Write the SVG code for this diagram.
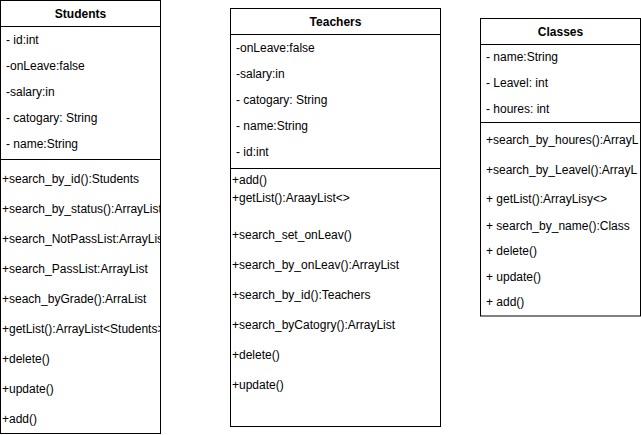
<svg xmlns="http://www.w3.org/2000/svg" width="641" height="435" viewBox="0 0 641 435">
<style>
.box{fill:#fff;stroke:#000;stroke-width:1}
.ln{stroke:#000;stroke-width:1}
text{font-family:"Liberation Sans",Arial,Helvetica,sans-serif;font-size:12px;fill:#000}
.hd{font-weight:bold;text-anchor:middle}
</style>
<defs>
<clipPath id="cs"><rect x="0" y="0" width="160" height="434"/></clipPath>
<clipPath id="ct"><rect x="230" y="8" width="210" height="419"/></clipPath>
<clipPath id="cc"><rect x="480" y="18" width="160" height="298"/></clipPath>
</defs>
<g id="connectors"></g>
<g id="students">
<rect class="box" x="0.5" y="0.5" width="160" height="433"/>
<line class="ln" x1="0.5" y1="26.5" x2="160.5" y2="26.5"/>
<line class="ln" x1="0.5" y1="159.5" x2="160.5" y2="159.5"/>
<text class="hd" x="80.5" y="18">Students</text>
<g clip-path="url(#cs)">
<text x="6" y="44">- id:int</text>
<text x="6" y="70">-onLeave:false</text>
<text x="6" y="96">-salary:in</text>
<text x="6" y="122">- catogary: String</text>
<text x="6" y="148">- name:String</text>
<text x="2" y="183">+search_by_id():Students</text>
<text x="2" y="213">+search_by_status():ArrayList</text>
<text x="2" y="243">+search_NotPassList:ArrayList</text>
<text x="2" y="273">+search_PassList:ArrayList</text>
<text x="2" y="303">+seach_byGrade():ArraList</text>
<text x="2" y="333">+getList():ArrayList&lt;Students&gt;</text>
<text x="2" y="363">+delete()</text>
<text x="2" y="393">+update()</text>
<text x="2" y="423">+add()</text>
</g>
</g>
<g id="teachers">
<rect class="box" x="230.5" y="8.5" width="210" height="418"/>
<line class="ln" x1="230.5" y1="34.5" x2="440.5" y2="34.5"/>
<line class="ln" x1="230.5" y1="168.5" x2="440.5" y2="168.5"/>
<text class="hd" x="335.5" y="26">Teachers</text>
<g clip-path="url(#ct)">
<text x="236" y="52">-onLeave:false</text>
<text x="236" y="78">-salary:in</text>
<text x="236" y="104">- catogary: String</text>
<text x="236" y="130">- name:String</text>
<text x="236" y="156">- id:int</text>
<text x="232" y="184">+add()</text>
<text x="232" y="202">+getList():AraayList&lt;&gt;</text>
<text x="232" y="239">+search_set_onLeav()</text>
<text x="232" y="269">+search_by_onLeav():ArrayList</text>
<text x="232" y="299">+search_by_id():Teachers</text>
<text x="232" y="329">+search_byCatogry():ArrayList</text>
<text x="232" y="359">+delete()</text>
<text x="232" y="389">+update()</text>
</g>
</g>
<g id="classes">
<rect class="box" x="480.5" y="18.5" width="160" height="297.5"/>
<line class="ln" x1="480.5" y1="44.5" x2="640.5" y2="44.5"/>
<line class="ln" x1="480.5" y1="122.5" x2="640.5" y2="122.5"/>
<text class="hd" x="560.5" y="36">Classes</text>
<g clip-path="url(#cc)">
<text x="486" y="61">- name:String</text>
<text x="486" y="87">- Leavel: int</text>
<text x="486" y="113">- houres: int</text>
<text x="486" y="144">+search_by_houres():ArrayL</text>
<text x="486" y="174">+search_by_Leavel():ArrayL</text>
<text x="486" y="203">+ getList():ArrayLisy&lt;&gt;</text>
<text x="486" y="230">+ search_by_name():Class</text>
<text x="486" y="255">+ delete()</text>
<text x="486" y="281">+ update()</text>
<text x="486" y="306">+ add()</text>
</g>
</g>
</svg>
